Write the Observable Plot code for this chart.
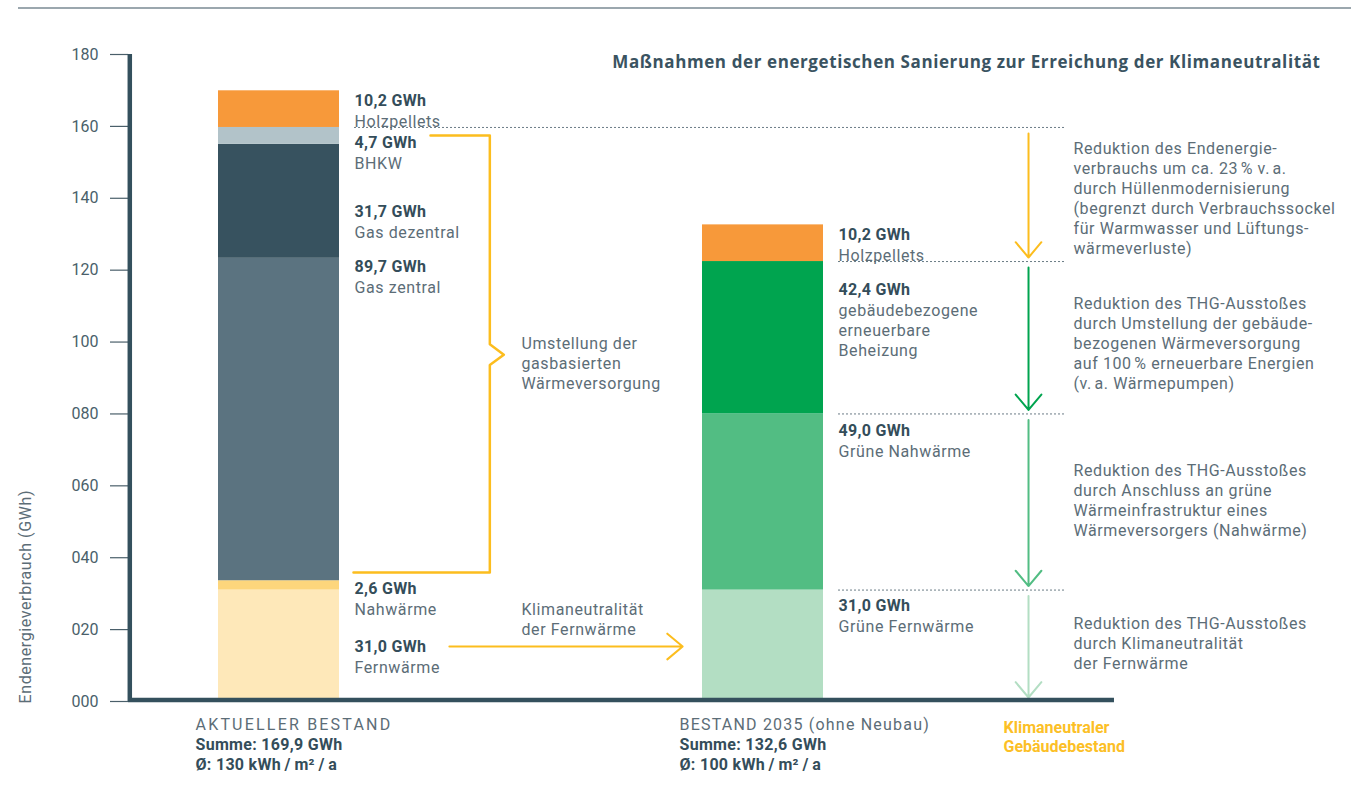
<!DOCTYPE html>
<html>
<head>
<meta charset="utf-8">
<script src="https://cdn.jsdelivr.net/npm/d3@7"></script>
<script src="https://cdn.jsdelivr.net/npm/@observablehq/plot@0.6"></script>
<style>
  body { margin: 0; background: #fff; }
  #wrap { position: relative; width: 1351px; height: 804px; overflow: hidden; }
  #rule { position: absolute; left: 18px; right: 0; top: 7px; height: 2px; background: #9ba7ae; }
  #chart svg { display: block; }
</style>
</head>
<body>
<div id="wrap"><div id="chart"></div><div id="rule"></div></div>
<script>
// ---------- data ----------
const categories = ["AKTUELLER BESTAND", "BESTAND 2035 (ohne Neubau)"];
const sumLabels = ["Summe: 169,9 GWh", "Summe: 132,6 GWh"];
const intensityLabels = ["Ø: 130 kWh\u2009/\u2009m²\u2009/\u2009a", "Ø: 100 kWh\u2009/\u2009m²\u2009/\u2009a"];

const segments1 = ["Fernwärme", "Nahwärme", "Gas zentral", "Gas dezentral", "BHKW", "Holzpellets"];
const values1 = [31.0, 2.6, 89.7, 31.7, 4.7, 10.2];
const labelAt1 = [15.3, 31.4, 120.8, 136.1, 155.3, 167.2];

const segments2 = ["Grüne Fernwärme", "Grüne Nahwärme", "gebäudebezogene erneuerbare Beheizung", "Holzpellets"];
const names2 = ["Grüne Fernwärme", "Grüne Nahwärme", "gebäudebezogene\nerneuerbare\nBeheizung", "Holzpellets"];
const values2 = [31.0, 49.0, 42.4, 10.2];
const labelAt2 = [26.7, 75.4, 114.4, 129.9];

const yTicks = [0, 20, 40, 60, 80, 100, 120, 140, 160, 180];

const colorKeys = ["Fernwärme", "Nahwärme", "Gas zentral", "Gas dezentral", "BHKW", "Holzpellets",
                   "Grüne Fernwärme", "Grüne Nahwärme", "gebäudebezogene erneuerbare Beheizung"];
const colorRange = ["#fee8b9", "#fdd67c", "#5b7380", "#37525f", "#b2c3c9", "#f7993a",
                    "#b3dec3", "#52bd83", "#00a44f"];

const title = "Maßnahmen der energetischen Sanierung zur Erreichung der Klimaneutralität";
const yTitle = "Endenergieverbrauch (GWh)";

const stepTexts = [
  "Reduktion des Endenergie-\nverbrauchs um ca. 23\u202F% v.\u202Fa.\ndurch Hüllenmodernisierung\n(begrenzt durch Verbrauchssockel\nfür Warmwasser und Lüftungs-\nwärmeverluste)",
  "Reduktion des THG-Ausstoßes\ndurch Umstellung der gebäude-\nbezogenen Wärmeversorgung\nauf 100\u202F% erneuerbare Energien\n(v.\u202Fa. Wärmepumpen)",
  "Reduktion des THG-Ausstoßes\ndurch Anschluss an grüne\nWärmeinfrastruktur eines\nWärmeversorgers (Nahwärme)",
  "Reduktion des THG-Ausstoßes\ndurch Klimaneutralität\nder Fernwärme"
];
const stepTextAt = [140.2, 99.9, 56.2, 16.4];
const stepColors = ["#fcbd1e", "#00a44f", "#52bd83", "#b3dec3"];

const bracketText = "Umstellung der\ngasbasierten\nWärmeversorgung";
const fernText = "Klimaneutralität\nder Fernwärme";
const targetText = "Klimaneutraler\nGebäudebestand";

// ---------- derived tables ----------
function stackRows(pos, segs, vals, names, labelAt) {
  let acc = 0;
  return segs.map((s, j) => {
    const r = {pos, segment: s, name: names[j], value: vals[j], y1: acc, y2: acc + vals[j], labelY: labelAt[j]};
    acc += vals[j];
    return r;
  });
}
const rows = [
  ...stackRows(0, segments1, values1, segments1, labelAt1),
  ...stackRows(1, segments2, values2, names2, labelAt2)
];
const fmt = v => v.toFixed(1).replace(".", ",") + " GWh";

const total1NoWood = d3.sum(values1.slice(0, 5));            // 159.7
const cum2 = d3.cumsum(values2);                               // 31, 80, 122.4, 132.6
const levels = [total1NoWood, cum2[2], cum2[1], cum2[0], 0];   // arrow boundaries
const steps = stepTexts.map((t, i) => ({from: levels[i], to: levels[i + 1], text: t, y: stepTextAt[i], color: stepColors[i]}));
const dividers = [
  {y: total1NoWood, x1: 0.156},
  {y: cum2[2], x1: 1.156},
  {y: cum2[1], x1: 1.156},
  {y: cum2[0], x1: 1.156}
];

// layout (x in "category" units: bar centres at 0 and 1)
const xDomain = [-150.5 / 484, 1072.5 / 484];
const halfBar = 0.125;
const xArrow = 1.5486, xDivEnd = 1.627, xStepText = 1.6415, xMid = 0.501;
const bracket = [
  {x: 0.313, y: 157.5}, {x: 0.4356, y: 157.5}, {x: 0.4356, y: 99.4},
  {x: 0.4645, y: 96.5}, {x: 0.4356, y: 93.6}, {x: 0.4356, y: 35.9}, {x: 0.1539, y: 35.9}
];

const dark = "#344d5a";
const grey = "#5c6d77";
const yellow = "#fcbd1e";
const font = "Roboto, 'DejaVu Sans', sans-serif";

const chart = Plot.plot({
  width: 1351,
  height: 804,
  marginLeft: 128,
  marginRight: 0,
  marginTop: 54,
  marginBottom: 103,
  x: {domain: xDomain, axis: null},
  y: {domain: [0, 180], axis: null},
  color: {domain: colorKeys, range: colorRange},
  style: {fontFamily: font, color: "#40565f", background: "transparent", overflow: "visible"},
  marks: [
    // bars
    Plot.rect(rows, {x1: d => d.pos - halfBar, x2: d => d.pos + halfBar, y1: "y1", y2: "y2", fill: "segment"}),
    // dotted dividers
    Plot.ruleY(dividers, {y: "y", x1: "x1", x2: () => xDivEnd, stroke: "#6b7c86", strokeWidth: 1, strokeDasharray: "2,2"}),
    // step arrows
    Plot.arrow(steps, {x1: () => xArrow, x2: () => xArrow, y1: "from", y2: "to", stroke: "color", strokeWidth: 2,
      headAngle: 80, headLength: 15, insetStart: 6, insetEnd: 4}),
    Plot.text(steps, {x: () => xStepText, y: "y", text: "text", textAnchor: "start", lineAnchor: "middle",
      lineHeight: 1.25, fontSize: 16, fill: grey}),
    // bracket for gas supply
    Plot.line(bracket, {x: "x", y: "y", stroke: yellow, strokeWidth: 2.5, curve: "linear"}),
    Plot.text([bracketText], {x: () => xMid, y: () => 94.3, text: d => d, textAnchor: "start", lineAnchor: "middle",
      lineHeight: 1.25, fontSize: 16, fill: grey}),
    // district heating arrow
    Plot.arrow([values1[0]], {x1: () => 0.352, x2: () => 0.834, y1: d => d / 2 - 0.2, y2: d => d / 2 - 0.2,
      stroke: yellow, strokeWidth: 2, headAngle: 80, headLength: 15}),
    Plot.text([fernText], {x: () => xMid, y: () => 23.1, text: d => d, textAnchor: "start", lineAnchor: "middle",
      lineHeight: 1.25, fontSize: 16, fill: grey}),
    // segment labels
    Plot.text(rows, {x: "pos", y: "labelY", dx: 75.5, text: d => fmt(d.value), textAnchor: "start", lineAnchor: "middle",
      fontSize: 16, fontWeight: "bold", fill: dark}),
    Plot.text(rows, {x: "pos", y: "labelY", dx: 75.5, dy: 12, text: "name", textAnchor: "start", lineAnchor: "top",
      lineHeight: 1.25, fontSize: 16, fill: grey}),
    // axis
    Plot.axisY(yTicks, {tickFormat: d => d3.format("03d")(d), tickSize: 18, tickPadding: 12, fontSize: 16,
      color: "#4a5f6a", strokeWidth: 1.2, label: null}),
    Plot.ruleX([xDomain[0]], {y1: 0, y2: 180, dx: 1.3, stroke: "#34505d", strokeWidth: 4.5}),
    Plot.ruleY([0], {x1: () => xDomain[0], x2: () => 1.7262, dy: -1.5, stroke: "#34505d", strokeWidth: 4.5}),
    Plot.text([yTitle], {x: () => xDomain[0], y: () => 0, dx: -103, dy: 2, rotate: -90, textAnchor: "start",
      lineAnchor: "middle", fontSize: 16, fill: grey}),
    // title
    Plot.text([title], {x: () => xDomain[1], y: () => 180, dx: -31, dy: 8, textAnchor: "end", lineAnchor: "middle",
      fontSize: 17, fontWeight: "bold", fill: "#3a5361", fontFamily: "'Open Sans', Roboto, sans-serif"}),
    // category labels
    Plot.text(categories, {x: (d, i) => i, y: () => 0, dx: -83.5, dy: 23, text: d => d, textAnchor: "start",
      lineAnchor: "middle", fontSize: 16, fill: grey}),
    Plot.text(sumLabels, {x: (d, i) => i, y: () => 0, dx: -83.5, dy: 43, text: d => d, textAnchor: "start",
      lineAnchor: "middle", fontSize: 16, fontWeight: "bold", fill: dark}),
    Plot.text(intensityLabels, {x: (d, i) => i, y: () => 0, dx: -83.5, dy: 63, text: d => d, textAnchor: "start",
      lineAnchor: "middle", fontSize: 16, fontWeight: "bold", fill: dark}),
    Plot.text([targetText], {x: () => 1.4969, y: () => 0, dy: 18, text: d => d, textAnchor: "start",
      lineAnchor: "top", lineHeight: 1.2, fontSize: 16, fontWeight: "bold", fill: "#fcbf26"})
  ]
});
document.getElementById("chart").appendChild(chart);

// typographic spacing
const sel = d3.select(chart);
sel.selectAll(`g[fill="${grey}"]`).attr("letter-spacing", "0.6px");
sel.selectAll(`g[fill="${dark}"]`).attr("letter-spacing", "0.3px");
sel.selectAll("text").filter(function() { return this.textContent === title; }).attr("letter-spacing", "0.6px");
sel.selectAll("text").filter(function() { return this.textContent === categories[0]; }).attr("letter-spacing", "2.2px");
sel.selectAll("text").filter(function() { return this.textContent === categories[1]; }).attr("letter-spacing", "1.2px");
</script>
</body>
</html>
